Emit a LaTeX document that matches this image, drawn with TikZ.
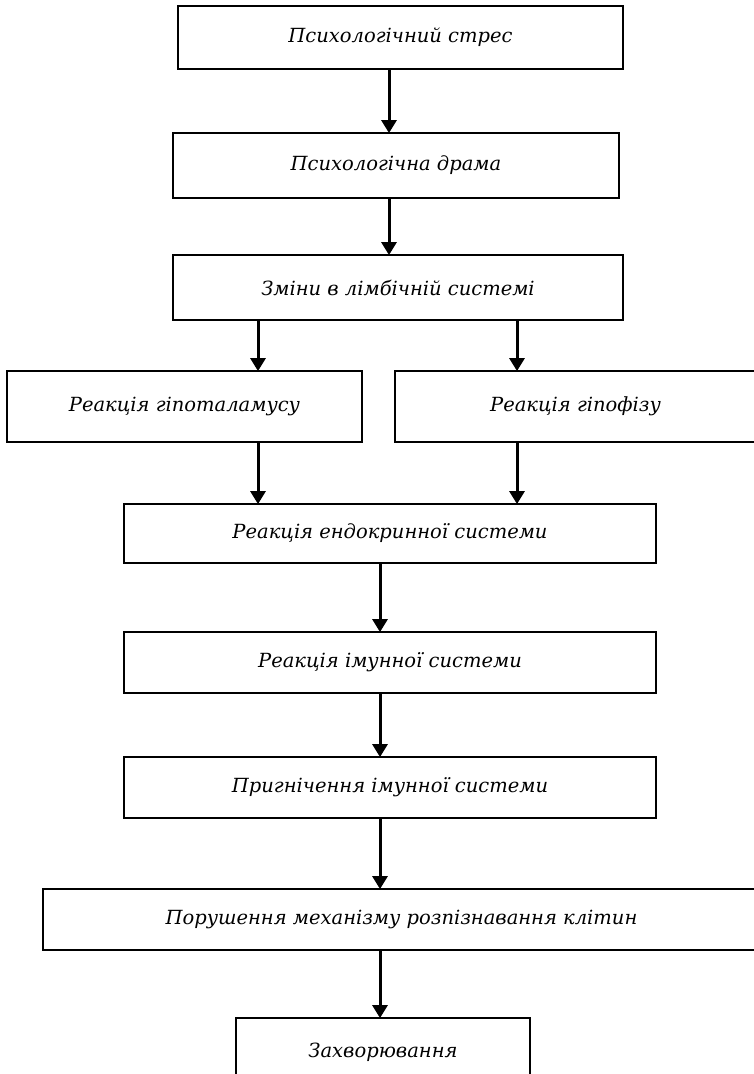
\documentclass[tikz,border=0pt]{standalone}
\usepackage{fontspec}
\setmainfont{DejaVu Serif}
\usetikzlibrary{arrows.meta}
\tikzset{
  box/.style={draw, line width=1.8pt, rectangle, inner sep=0pt, font=\itshape\fontsize{19.5}{22}\selectfont},
  arr/.style={line width=3pt, -{Triangle[length=13pt,width=15pt]}, shorten >=-1pt}
}
\begin{document}
\begin{tikzpicture}[x=1pt,y=-1pt]
\useasboundingbox (0,0) rectangle (754,1074);
\clip (0,0) rectangle (754,1074);
\node[box, minimum width=445, minimum height=63] (b1) at (400.5,37.5) {Психологічний стрес};
\node[box, minimum width=446, minimum height=65] (b2) at (396,165.5) {Психологічна драма};
\node[box, minimum width=450, minimum height=65] (b3) at (398,287.5) {Зміни в лімбічній системі};
\node[box, minimum width=355, minimum height=71] (b4) at (184.5,406.5) {\raisebox{4pt}{Реакція гіпоталамусу}};
\node[box, minimum width=361, minimum height=71] (b5) at (575.5,406.5) {\raisebox{4pt}{Реакція гіпофізу}};
\node[box, minimum width=532, minimum height=59] (b6) at (390,533.5) {Реакція ендокринної системи};
\node[box, minimum width=532, minimum height=61] (b7) at (390,662.5) {Реакція імунної системи};
\node[box, minimum width=532, minimum height=61] (b8) at (390,787.5) {Пригнічення імунної системи};
\node[box, minimum width=717, minimum height=61] (b9) at (401.5,919.5) {Порушення механізму розпізнавання клітин};
\node[box, minimum width=294, minimum height=70] (b10) at (383,1053) {\raisebox{6pt}{Захворювання}};
\draw[arr] (389,0 |- b1.south) -- (389,0 |- b2.north);
\draw[arr] (389,0 |- b2.south) -- (389,0 |- b3.north);
\draw[arr] (258,0 |- b3.south) -- (258,0 |- b4.north);
\draw[arr] (517,0 |- b3.south) -- (517,0 |- b5.north);
\draw[arr] (258,0 |- b4.south) -- (258,0 |- b6.north);
\draw[arr] (517,0 |- b5.south) -- (517,0 |- b6.north);
\draw[arr] (380,0 |- b6.south) -- (380,0 |- b7.north);
\draw[arr] (380,0 |- b7.south) -- (380,0 |- b8.north);
\draw[arr] (380,0 |- b8.south) -- (380,0 |- b9.north);
\draw[arr] (380,0 |- b9.south) -- (380,0 |- b10.north);
\end{tikzpicture}
\end{document}
